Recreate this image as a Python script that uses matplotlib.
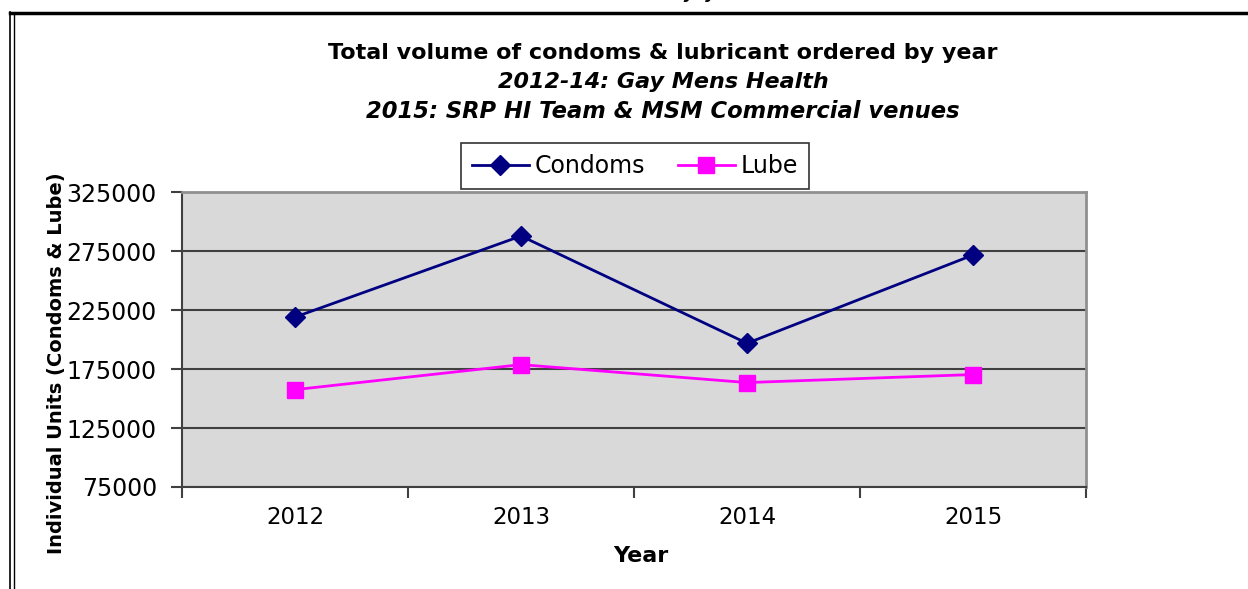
import matplotlib
matplotlib.use('Agg')
from matplotlib import pyplot as plt
from matplotlib.lines import Line2D

years = ['2012', '2013', '2014', '2015']
condoms = [219000, 287700, 196800, 271600]
lube = [157500, 178700, 163500, 170300]
y_ticks = [75000, 125000, 175000, 225000, 275000, 325000]

plt.rcParams['font.family'] = ['DejaVu Sans']

fig = plt.figure(figsize=(12.48, 5.89), dpi=100)
ax = fig.add_axes([182/1248, 1 - 487/589, (1086 - 182)/1248, (487 - 192)/589])

x = range(len(years))
ax.plot(x, condoms, color='#000080', linewidth=2, marker='D', markersize=10,
        label='Condoms', zorder=3)
ax.plot(x, lube, color='#ff00ff', linewidth=2, marker='s', markersize=11,
        label='Lube', zorder=3)

ax.set_facecolor('#d9d9d9')
ax.set_xlim(-0.5, len(years) - 0.5)
ax.set_ylim(75000, 325000)
ax.set_yticks(y_ticks)
ax.set_yticklabels([str(v) for v in y_ticks], fontsize=17)
ax.grid(True, axis='y', color='#404040', linewidth=1.5)
ax.set_axisbelow(True)

# category labels centered, tick marks between categories
ax.set_xticks(list(x))
ax.set_xticklabels(years, fontsize=16.5)
ax.tick_params(axis='x', which='major', length=0, pad=14)
ax.set_xticks([i - 0.5 for i in range(len(years) + 1)], minor=True)
ax.tick_params(axis='x', which='minor', length=8, width=1.5, color='#404040', direction='out')
ax.tick_params(axis='y', length=8, width=1.5, color='#404040', direction='out', pad=10)

for side in ['top', 'right']:
    ax.spines[side].set_color('#909090')
    ax.spines[side].set_linewidth(2)
for side in ['left', 'bottom']:
    ax.spines[side].set_color('#404040')
    ax.spines[side].set_linewidth(1.5)

ax.set_xlabel('Year', fontsize=16, fontweight='bold')
ax.xaxis.set_label_coords(0.508, -0.2)
ax.set_ylabel('Individual Units (Condoms & Lube)', fontsize=14, fontweight='bold')
ax.yaxis.set_label_coords(-0.128, 0.42)

leg = ax.legend(loc='center', bbox_to_anchor=(635/1248, 1 - 166/589),
                bbox_transform=fig.transFigure, ncol=2, fontsize=17, frameon=True,
                fancybox=False, edgecolor='black', handlelength=2.4,
                columnspacing=1.4, handletextpad=0.25, borderpad=0.45, borderaxespad=0)
leg.get_frame().set_linewidth(1.2)

# titles
fig.text(663/1248, 1 - 53/589, 'Total volume of condoms & lubricant ordered by year',
         ha='center', va='center', fontsize=16, fontweight='bold')
fig.text(663/1248, 1 - 82/589, '2012-14: Gay Mens Health',
         ha='center', va='center', fontsize=16, fontweight='bold', style='italic')
fig.text(663/1248, 1 - 112/589, '2015: SRP HI Team & MSM Commercial venues',
         ha='center', va='center', fontsize=16.3, fontweight='bold', style='italic')

# caption of the page, almost entirely cut off at the top edge
fig.text(20/1248, 1 + 3/589, 'Chart 3: Total volume of Condoms & lubricant ordered by year',
         ha='left', va='baseline', fontsize=17, style='italic')

# page frame
fig.add_artist(Line2D([9.5/1248, 1], [1 - 12.5/589, 1 - 12.5/589], color='black', linewidth=2.5))
fig.add_artist(Line2D([10/1248, 10/1248], [0, 1 - 12/589], color='black', linewidth=1.2))
fig.add_artist(Line2D([13.5/1248, 13.5/1248], [0, 1 - 14/589], color='black', linewidth=1.0))

fig.savefig('out.png', dpi=100)
